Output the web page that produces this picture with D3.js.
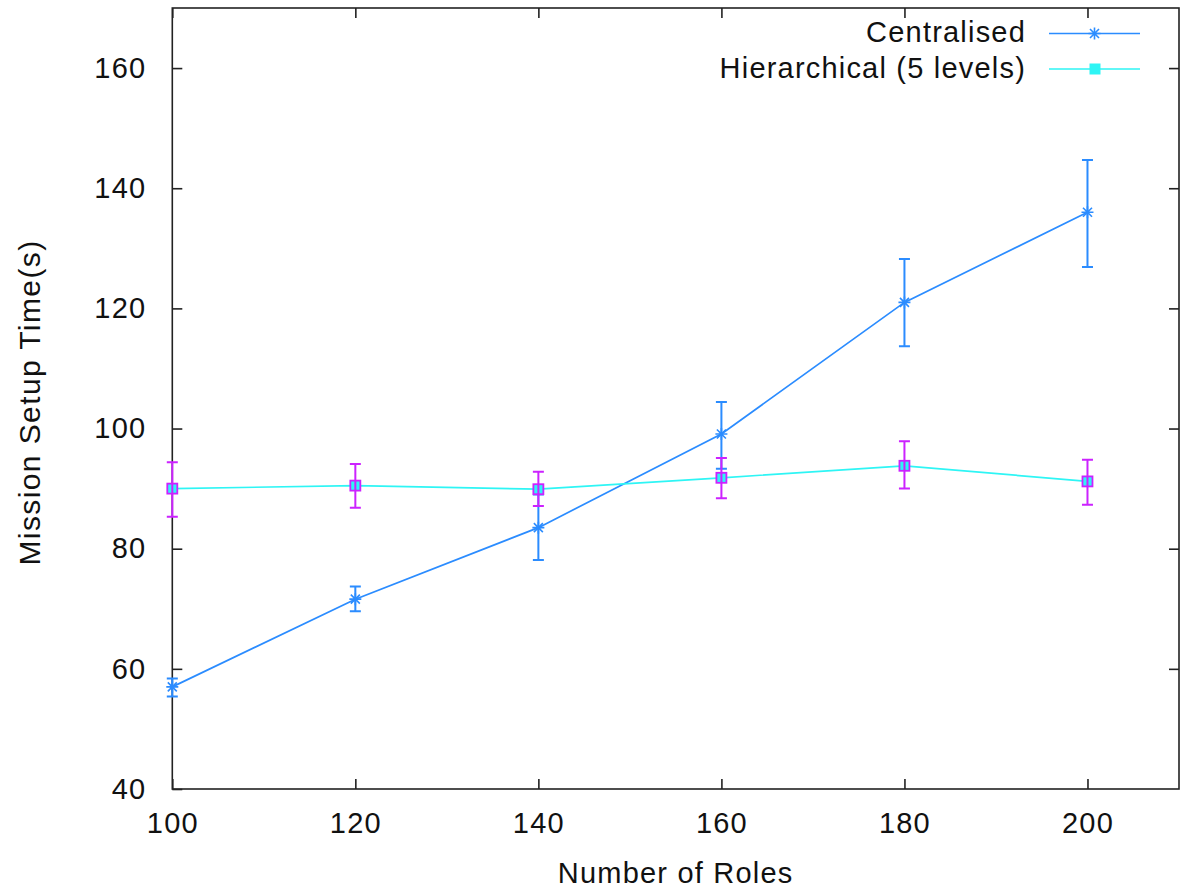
<!DOCTYPE html>
<html>
<head>
<meta charset="utf-8">
<script src="https://cdn.jsdelivr.net/npm/d3@7"></script>
<style>
  html, body { margin: 0; padding: 0; background: #fff; }
  svg text { font-family: "Liberation Sans", Arial, sans-serif; fill: #111; }
</style>
</head>
<body>
<svg id="chart" width="1183" height="889"></svg>
<script>
// Number of roles on the x axis
const roles = [100, 120, 140, 160, 180, 200];

// Centralised setup: mean time and error-bar bounds (seconds)
const centralMean = [57.0, 71.6, 83.5, 99.1, 121.0, 136.0];
const centralLow  = [55.4, 69.6, 78.1, 93.3, 113.7, 126.9];
const centralHigh = [58.4, 73.7, 89.0, 104.4, 128.2, 144.7];

// Hierarchical setup (5 levels)
const hierMean = [90.0, 90.5, 89.9, 91.8, 93.8, 91.2];
const hierLow  = [85.3, 86.8, 87.1, 88.4, 90.0, 87.3];
const hierHigh = [94.4, 94.1, 92.8, 95.1, 97.9, 94.8];

// Axis ticks
const xTicks = [100, 120, 140, 160, 180, 200];
const yTicks = [40, 60, 80, 100, 120, 140, 160];

const seriesNames = ["Centralised", "Hierarchical (5 levels)"];

const BLUE = "#2b8cff";
const CYAN = "#2ef5f5";
const MAGENTA = "#cc22ff";
const AXIS = "#222";

const svg = d3.select("#chart");
const plotL = 172.3, plotR = 1179, plotT = 8, plotB = 789;

const x = d3.scaleLinear().domain([100, 210]).range([plotL, plotR]);
const y = d3.scaleLinear().domain([40, 170]).range([plotB, plotT]);

const fontSize = 29, spacing = "1.2px";

// Frame
svg.append("rect")
  .attr("x", plotL).attr("y", plotT)
  .attr("width", plotR - plotL).attr("height", plotB - plotT)
  .attr("fill", "none").attr("stroke", AXIS).attr("stroke-width", 1.6);

function styleAxis(g) {
  g.select(".domain").remove();
  g.selectAll(".tick line").attr("stroke", AXIS).attr("stroke-width", 1.6);
  g.selectAll(".tick text")
    .attr("font-size", fontSize)
    .attr("letter-spacing", spacing)
    .attr("fill", "#111")
    .attr("font-family", "Liberation Sans, Arial, sans-serif");
}

// Bottom and left axes with inward ticks
svg.append("g").attr("transform", `translate(0,${plotB})`)
  .call(d3.axisBottom(x).tickValues(xTicks).tickSize(-10).tickSizeOuter(0).tickPadding(23))
  .call(styleAxis);
svg.append("g").attr("transform", `translate(${plotL},0)`)
  .call(d3.axisLeft(y).tickValues(yTicks).tickSize(-10).tickSizeOuter(0).tickPadding(26))
  .call(styleAxis);

// Mirrored ticks on top and right
svg.append("g").attr("transform", `translate(0,${plotT})`)
  .call(d3.axisTop(x).tickValues(xTicks).tickSize(-10).tickSizeOuter(0).tickFormat(""))
  .call(styleAxis);
svg.append("g").attr("transform", `translate(${plotR},0)`)
  .call(d3.axisRight(y).tickValues(yTicks.filter(v => v > 40)).tickSize(-10).tickSizeOuter(0).tickFormat(""))
  .call(styleAxis);

// Axis titles
svg.append("text")
  .attr("x", (plotL + plotR) / 2).attr("y", 883)
  .attr("text-anchor", "middle")
  .attr("font-size", fontSize).attr("letter-spacing", spacing)
  .text("Number of Roles");
svg.append("text")
  .attr("transform", `translate(40,${(plotT + plotB) / 2 + 4}) rotate(-90)`)
  .attr("text-anchor", "middle")
  .attr("font-size", 30).attr("letter-spacing", "1.4px")
  .text("Mission Setup Time(s)");

const line = d3.line().x(d => x(d[0])).y(d => y(d[1]));

const starPath = "M-6,0H6M0,-6V6M-4.5,-4.5L4.5,4.5M-4.5,4.5L4.5,-4.5";
const capHalf = 5.5;

function errorBars(g, lo, hi, color) {
  roles.forEach((r, i) => {
    const px = x(r);
    const p = d3.path();
    p.moveTo(px, y(lo[i])); p.lineTo(px, y(hi[i]));
    p.moveTo(px - capHalf, y(lo[i])); p.lineTo(px + capHalf, y(lo[i]));
    p.moveTo(px - capHalf, y(hi[i])); p.lineTo(px + capHalf, y(hi[i]));
    g.append("path").attr("d", p.toString())
      .attr("stroke", color).attr("stroke-width", 2).attr("fill", "none");
  });
}

// Centralised series
const gC = svg.append("g");
gC.append("path")
  .attr("d", line(roles.map((r, i) => [r, centralMean[i]])))
  .attr("fill", "none").attr("stroke", BLUE).attr("stroke-width", 1.7);
errorBars(gC, centralLow, centralHigh, BLUE);
gC.selectAll("path.star").data(roles).join("path")
  .attr("class", "star")
  .attr("transform", (r, i) => `translate(${x(r)},${y(centralMean[i])})`)
  .attr("d", starPath).attr("stroke", BLUE).attr("stroke-width", 1.6).attr("fill", "none");

// Hierarchical series
const gH = svg.append("g");
gH.append("path")
  .attr("d", line(roles.map((r, i) => [r, hierMean[i]])))
  .attr("fill", "none").attr("stroke", CYAN).attr("stroke-width", 1.7);
gH.selectAll("rect.fillsq").data(roles).join("rect")
  .attr("class", "fillsq")
  .attr("x", r => x(r) - 5).attr("y", (r, i) => y(hierMean[i]) - 5)
  .attr("width", 10).attr("height", 10).attr("fill", CYAN);
errorBars(gH, hierLow, hierHigh, MAGENTA);
gH.selectAll("rect.outline").data(roles).join("rect")
  .attr("class", "outline")
  .attr("x", r => x(r) - 5).attr("y", (r, i) => y(hierMean[i]) - 5)
  .attr("width", 10).attr("height", 10)
  .attr("fill", "none").attr("stroke", MAGENTA).attr("stroke-width", 1.8);

// Legend
const legend = svg.append("g");
const legendRows = [
  { name: seriesNames[0], color: BLUE, y: 33.5, marker: "star" },
  { name: seriesNames[1], color: CYAN, y: 69, marker: "square" }
];
legendRows.forEach(row => {
  legend.append("text")
    .attr("x", 1026).attr("y", row.y + 8.5)
    .attr("text-anchor", "end")
    .attr("font-size", fontSize).attr("letter-spacing", spacing)
    .text(row.name);
  legend.append("line")
    .attr("x1", 1049).attr("x2", 1140).attr("y1", row.y).attr("y2", row.y)
    .attr("stroke", row.color).attr("stroke-width", 1.7);
  if (row.marker === "star") {
    legend.append("path")
      .attr("transform", `translate(1094.5,${row.y})`)
      .attr("d", starPath).attr("stroke", row.color).attr("stroke-width", 1.6).attr("fill", "none");
  } else {
    legend.append("rect")
      .attr("x", 1089.5).attr("y", row.y - 5.5).attr("width", 11).attr("height", 11)
      .attr("fill", row.color);
  }
});
</script>
</body>
</html>
